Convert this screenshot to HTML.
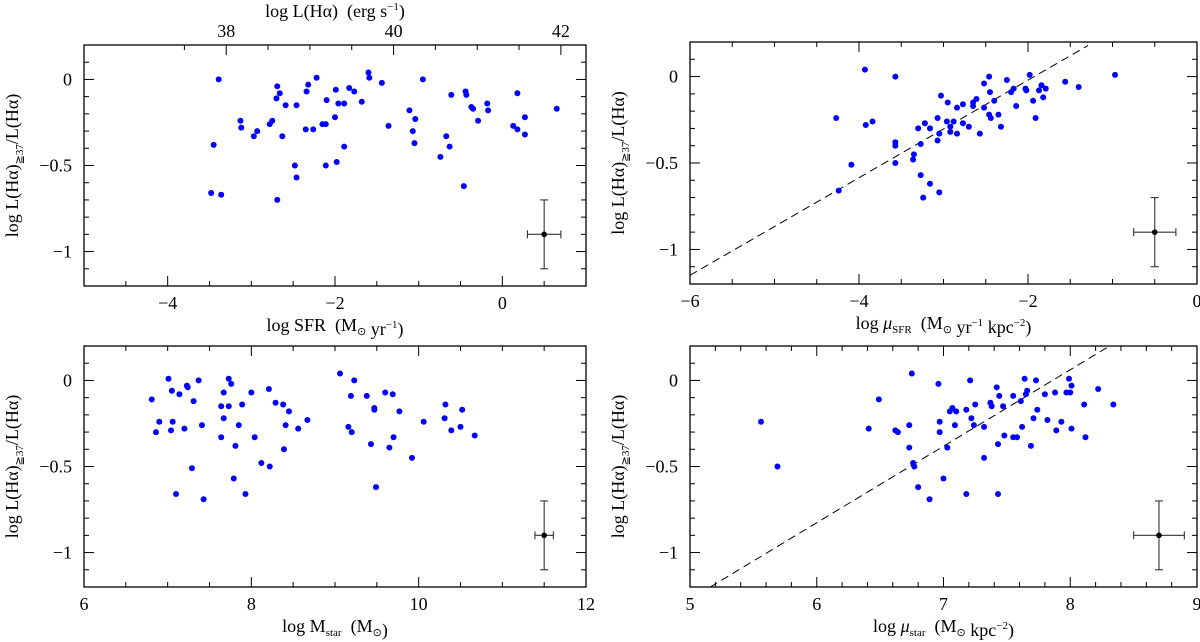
<!DOCTYPE html>
<html><head><meta charset="utf-8"><style>
html,body{margin:0;padding:0;background:#fff;width:1200px;height:642px;overflow:hidden}
svg text{font-family:"Liberation Serif",serif;fill:#000}
</style></head><body>
<svg id="fig" width="1200" height="642" xmlns="http://www.w3.org/2000/svg"></svg>
<script>
// Panel 1: log SFR
const sfrX=[-3.39,-3.45,-3.48,-3.36,-3.13,-3.12,-2.97,-2.93,-2.78,-2.75,-2.70,-2.69,-2.66,-2.69,-2.63,-2.59,-2.48,-2.46,-2.46,-2.35,-2.34,-2.32,-2.26,-2.22,-2.15,-2.11,-2.11,-2.10,-2.00,-1.99,-1.98,-1.96,-1.89,-1.89,-1.83,-1.77,-1.68,-1.60,-1.59,-1.44,-1.36,-1.11,-1.07,-1.04,-1.05,-0.95,-0.74,-0.67,-0.63,-0.61,-0.46,-0.44,-0.43,-0.37,-0.35,-0.29,-0.18,-0.17,0.13,0.18,0.18,0.27,0.27,0.65];
const sfrY=[0,-0.38,-0.66,-0.67,-0.24,-0.28,-0.33,-0.30,-0.26,-0.24,-0.11,-0.04,-0.08,-0.70,-0.33,-0.15,-0.50,-0.15,-0.57,-0.29,-0.07,-0.03,-0.29,0.01,-0.26,-0.26,-0.50,-0.12,-0.22,-0.06,-0.48,-0.14,-0.14,-0.39,-0.05,-0.07,-0.13,0.04,0.01,-0.02,-0.27,-0.18,-0.30,-0.23,-0.37,0.00,-0.45,-0.33,-0.39,-0.09,-0.62,-0.07,-0.09,-0.16,-0.17,-0.24,-0.14,-0.18,-0.27,-0.29,-0.08,-0.22,-0.32,-0.17];
// Panel 2: log mu_SFR
const musfrX=[-4.27,-4.24,-4.09,-3.93,-3.92,-3.84,-3.57,-3.57,-3.57,-3.57,-3.36,-3.35,-3.30,-3.27,-3.27,-3.24,-3.22,-3.16,-3.16,-3.07,-3.07,-3.05,-3.05,-3.03,-2.96,-2.95,-2.92,-2.92,-2.88,-2.84,-2.84,-2.77,-2.77,-2.70,-2.65,-2.65,-2.61,-2.57,-2.52,-2.52,-2.46,-2.46,-2.45,-2.44,-2.40,-2.35,-2.32,-2.25,-2.20,-2.17,-2.14,-2.03,-2.02,-1.98,-1.94,-1.91,-1.87,-1.84,-1.82,-1.79,-1.56,-1.40,-0.97];
const musfrY=[-0.24,-0.66,-0.51,0.04,-0.28,-0.26,0,-0.38,-0.40,-0.50,-0.48,-0.45,-0.30,-0.39,-0.57,-0.70,-0.27,-0.30,-0.62,-0.24,-0.37,-0.33,-0.67,-0.11,-0.26,-0.15,-0.29,-0.32,-0.26,-0.18,-0.33,-0.16,-0.27,-0.29,-0.15,-0.17,-0.13,-0.33,-0.18,-0.04,-0.22,0,-0.09,-0.24,-0.14,-0.22,-0.29,-0.02,-0.09,-0.07,-0.17,-0.07,-0.08,0.01,-0.14,-0.24,-0.08,-0.05,-0.12,-0.07,-0.03,-0.06,0.01];
// Panel 3: log M_star
const mstarX=[6.81,6.86,6.90,7.01,7.04,7.05,7.06,7.10,7.14,7.20,7.23,7.24,7.29,7.31,7.37,7.41,7.43,7.64,7.64,7.67,7.67,7.73,7.73,7.76,7.79,7.81,7.85,7.89,7.93,8.00,8.04,8.12,8.21,8.22,8.29,8.38,8.39,8.41,8.45,8.56,8.67,9.06,9.16,9.19,9.20,9.23,9.38,9.43,9.47,9.47,9.49,9.60,9.65,9.69,9.70,9.77,9.92,10.06,10.31,10.32,10.39,10.50,10.52,10.67];
const mstarY=[-0.11,-0.30,-0.24,0.01,-0.29,-0.06,-0.24,-0.66,-0.08,-0.28,-0.03,-0.04,-0.51,-0.12,0,-0.26,-0.69,-0.15,-0.33,-0.07,-0.22,0.01,-0.15,-0.02,-0.57,-0.38,-0.26,-0.14,-0.66,-0.07,-0.33,-0.48,-0.05,-0.50,-0.13,-0.14,-0.40,-0.26,-0.18,-0.28,-0.23,0.04,-0.27,-0.09,-0.30,0,-0.09,-0.37,-0.16,-0.17,-0.62,-0.07,-0.39,-0.08,-0.33,-0.18,-0.45,-0.24,-0.22,-0.14,-0.29,-0.27,-0.17,-0.32];
// Panel 4: log mu_star
const mustarX=[5.56,5.69,6.41,6.49,6.62,6.64,6.73,6.73,6.75,6.76,6.77,6.80,6.89,6.96,6.97,6.97,7.00,7.03,7.05,7.07,7.09,7.10,7.18,7.18,7.21,7.22,7.24,7.25,7.32,7.32,7.37,7.38,7.42,7.43,7.43,7.44,7.47,7.48,7.55,7.55,7.58,7.61,7.62,7.64,7.65,7.66,7.69,7.71,7.73,7.74,7.80,7.82,7.88,7.89,7.93,7.97,7.99,8.00,8.01,8.01,8.11,8.12,8.22,8.34];
const mustarY=[-0.24,-0.50,-0.28,-0.11,-0.29,-0.30,-0.39,-0.26,0.04,-0.48,-0.50,-0.62,-0.69,-0.02,-0.24,-0.30,-0.57,-0.39,-0.18,-0.16,-0.26,-0.18,-0.66,-0.17,0,-0.22,-0.26,-0.14,-0.27,-0.45,-0.13,-0.15,-0.04,-0.37,-0.66,-0.09,-0.15,-0.32,-0.09,-0.33,-0.33,-0.12,-0.27,0.01,-0.08,-0.06,-0.38,-0.22,0,-0.17,-0.08,-0.23,-0.07,-0.29,-0.24,-0.07,0.01,-0.07,-0.28,-0.03,-0.14,-0.33,-0.05,-0.14];
// Error bars [x, y, xerr, yerr]
const errSfr=[0.5,-0.9,0.2,0.2];
const errMusfr=[-0.5,-0.9,0.25,0.2];
const errMstar=[11.5,-0.9,0.11,0.2];
const errMustar=[8.7,-0.9,0.2,0.2];
// Fit lines [x1,y1,x2,y2]
const fitMusfr=[-6,-1.15,-1.29,0.18];
const fitMustar=[5.16,-1.2,8.31,0.2];
const yTicks=[0,-0.5,-1];
const yTickLabels=["0","\u22120.5","\u22121"];

const NS="http://www.w3.org/2000/svg";
const svg=document.getElementById('fig');
function mk(tag,attrs,parent){const e=document.createElementNS(NS,tag);for(const k in attrs)e.setAttribute(k,attrs[k]);(parent||svg).appendChild(e);return e;}

function panel(cfg){
  const g=mk('g',{});
  
  
  const L=cfg.L,R=cfg.R,T=cfg.T,B=cfg.B;
  const sx=v=>L+(v-cfg.x0)/(cfg.x1-cfg.x0)*(R-L);
  const sy=v=>T+(0.2-v)/1.4*(B-T);
  const fr=mk('rect',{x:L,y:T,width:R-L,height:B-T,fill:'none',stroke:'#000','stroke-width':1.3},g);
  
  
  const nMin=Math.round((cfg.x1-cfg.x0)/cfg.minor);
  for(let i=0;i<=nMin;i++){
    const v=cfg.x0+i*cfg.minor;const X=sx(v);
    const major=Math.abs(v/cfg.major-Math.round(v/cfg.major))<1e-6;
    const len=major?10:5;
    mk('line',{x1:X,y1:B,x2:X,y2:B-len,stroke:'#000','stroke-width':1},g);
    if(!cfg.topAxis) mk('line',{x1:X,y1:T,x2:X,y2:T+len,stroke:'#000','stroke-width':1},g);
    if(major){
      const t=mk('text',{x:X,y:B+23,'font-size':18,'text-anchor':'middle'},g);
      t.textContent=v<0?'\u2212'+Math.abs(v):String(Math.round(v*10)/10);
      
      
    }
  }
  for(let i=0;i<=14;i++){
    const v=0.2-i*0.1;const Y=sy(v);
    const major=Math.abs(v*2-Math.round(v*2))<1e-6;
    const len=major?10:5;
    mk('line',{x1:L,y1:Y,x2:L+len,y2:Y,stroke:'#000','stroke-width':1},g);
    mk('line',{x1:R,y1:Y,x2:R-len,y2:Y,stroke:'#000','stroke-width':1},g);
  }
  yTicks.forEach((v,i)=>{
    const t=mk('text',{x:L-12,y:sy(v)+6,'font-size':18,'text-anchor':'end'},g);
    t.textContent=yTickLabels[i];
    
    
  });
  const cy=(T+B)/2;
  const yt=mk('text',{x:0,y:0,'font-size':18,'text-anchor':'middle',transform:`translate(${L-66},${cy}) rotate(-90)`},g);
  yt.innerHTML='log L(H\u03b1)<tspan font-size="11" dy="5">\u226737</tspan><tspan dy="-5">/L(H\u03b1)</tspan>';
  
  
  const xt=mk('text',{x:(L+R)/2,y:B+45,'font-size':18,'text-anchor':'middle'},g);
  xt.innerHTML=cfg.xtitle;
  
  
  if(cfg.topAxis){
    const off=41.3;
    for(let v=37.5;v<=42.31;v+=0.5){
      const X=sx(v-off);const major=Math.abs(v-Math.round(v/2)*2)<1e-6;
      mk('line',{x1:X,y1:T,x2:X,y2:T+(major?10:5),stroke:'#000','stroke-width':1},g);
      if(major){const t=mk('text',{x:X,y:T-8,'font-size':18,'text-anchor':'middle'},g);t.textContent=String(v);
        
        }
    }
    const tt=mk('text',{x:(L+R)/2,y:17,'font-size':18,'text-anchor':'middle'},g);
    tt.innerHTML='log L(H\u03b1) &#160;(erg s<tspan font-size="11" dy="-7">\u22121</tspan><tspan dy="7">)</tspan>';
    
    
  }
  if(cfg.fit){
    const f=cfg.fit;
    const ln=mk('line',{x1:sx(f[0]),y1:sy(f[1]),x2:sx(f[2]),y2:sy(f[3]),stroke:'#000','stroke-width':1,'stroke-dasharray':'8,5'},g);
    
    
  }
  cfg.xs.forEach((xv,i)=>{
    const c=mk('circle',{cx:sx(xv),cy:sy(cfg.ys[i]),r:3,fill:'#0000ff'},g);
    
    
  });
  const e=cfg.err;const eg=mk('g',{stroke:'#333','stroke-width':1.1},g);
  
  
  const ex=sx(e[0]),ey=sy(e[1]);
  const xa=sx(e[0]-e[2]),xb=sx(e[0]+e[2]),ya=sy(e[1]+e[3]),yb=sy(e[1]-e[3]);
  mk('line',{x1:xa,y1:ey,x2:xb,y2:ey},eg);
  mk('line',{x1:ex,y1:ya,x2:ex,y2:yb},eg);
  mk('line',{x1:xa,y1:ey-4,x2:xa,y2:ey+4},eg);
  mk('line',{x1:xb,y1:ey-4,x2:xb,y2:ey+4},eg);
  mk('line',{x1:ex-4,y1:ya,x2:ex+4,y2:ya},eg);
  mk('line',{x1:ex-4,y1:yb,x2:ex+4,y2:yb},eg);
  mk('circle',{cx:ex,cy:ey,r:2.8,fill:'#000',stroke:'none'},g);
}
const SUN='M<tspan font-size="11" dy="4">\u2299</tspan><tspan dy="-4"></tspan>';
panel({name:'panel-sfr',L:84,R:586,T:45,B:286,x0:-5,x1:1,major:2,minor:0.5,xs:sfrX,ys:sfrY,err:errSfr,topAxis:true,
  xtitle:'log SFR &#160;('+SUN+' yr<tspan font-size="11" dy="-7">\u22121</tspan><tspan dy="7">)</tspan>'});
panel({name:'panel-mu-sfr',L:690,R:1197,T:42,B:284,x0:-6,x1:0,major:2,minor:0.5,xs:musfrX,ys:musfrY,err:errMusfr,fit:fitMusfr,
  xtitle:'log <tspan font-style="italic">\u03bc</tspan><tspan font-size="11" dy="4">SFR</tspan><tspan dy="-4"> &#160;(</tspan>'+SUN+' yr<tspan font-size="11" dy="-7">\u22121</tspan><tspan dy="7"> kpc</tspan><tspan font-size="11" dy="-7">\u22122</tspan><tspan dy="7">)</tspan>'});
panel({name:'panel-mstar',L:84,R:586,T:346,B:587,x0:6,x1:12,major:2,minor:0.5,xs:mstarX,ys:mstarY,err:errMstar,
  xtitle:'log M<tspan font-size="11" dy="4">star</tspan><tspan dy="-4"> &#160;(</tspan>'+SUN+')'});
panel({name:'panel-mu-star',L:690,R:1197,T:346,B:587,x0:5,x1:9,major:1,minor:0.2,xs:mustarX,ys:mustarY,err:errMustar,fit:fitMustar,
  xtitle:'log <tspan font-style="italic">\u03bc</tspan><tspan font-size="11" dy="4">star</tspan><tspan dy="-4"> &#160;(</tspan>'+SUN+' kpc<tspan font-size="11" dy="-7">\u22122</tspan><tspan dy="7">)</tspan>'});
</script>
</body></html>
